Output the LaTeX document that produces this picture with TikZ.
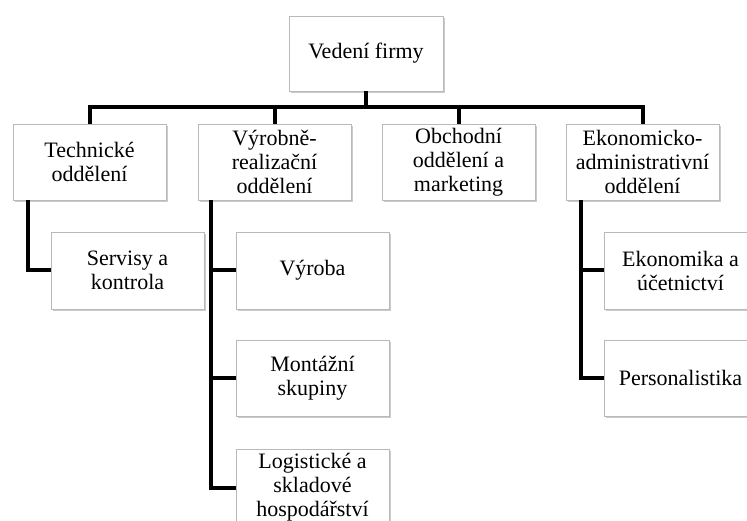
\documentclass[tikz,border=0pt]{standalone}
\usepackage{fontspec}
\setmainfont{Liberation Serif}
\usetikzlibrary{shadows}
\begin{document}
\begin{tikzpicture}[x=1pt,y=-1pt,
  box/.style={draw=gray!55, line width=0.8pt, fill=white, align=center, inner sep=0pt,
    minimum width=153pt, minimum height=76pt,
    font=\fontsize{22}{24}\selectfont,
    drop shadow={shadow xshift=2.2pt, shadow yshift=-2.2pt, fill=gray!50, opacity=0.8}},
  conn/.style={line width=4pt, black}]
\useasboundingbox (0,0) rectangle (747,521);
\clip (0,0) rectangle (747,521);
\fill[white] (0,0) rectangle (747,521);
% nodes
\node[box, minimum width=154pt, minimum height=75pt] (top) at (366,53.5) {Vedení firmy};
\node[box] (tech) at (89.5,162) {Technické\\oddělení};
\node[box] (vyr) at (274.5,162) {Výrobně-\\realizační\\oddělení};
\node[box] (obch) at (458.5,162) {Obchodní\\oddělení a\\marketing};
\node[box] (eko) at (642.5,162) {Ekonomicko-\\administrativní\\oddělení};
\node[box, minimum height=77pt] (serv) at (127.5,270.5) {Servisy a\\kontrola};
\node[box, minimum height=77pt] (vyroba) at (312.5,270.5) {Výroba};
\node[box] (mont) at (312.5,378) {Montážní\\skupiny};
\node[box, minimum height=77pt] (log) at (312.5,487.5) {Logistické a\\skladové\\hospodářství};
\node[box, minimum height=77pt] (ekon) at (680.5,270.5) {Ekonomika a\\účetnictví};
\node[box] (pers) at (680.5,378) {Personalistika};
% connectors
\coordinate (bar) at (366,107);
\draw[conn] (top.south) -- (bar);
\draw[conn] (bar) -| (tech.north);
\draw[conn] (bar) -| (vyr.north);
\draw[conn] (bar) -| (obch.north);
\draw[conn] (bar) -| (eko.north);
\draw[conn] ([xshift=15pt]tech.south west) |- (serv.west);
\draw[conn] ([xshift=13pt]vyr.south west) |- (vyroba.west);
\draw[conn] ([xshift=13pt]vyr.south west) |- (mont.west);
\draw[conn] ([xshift=13pt]vyr.south west) |- (log.west);
\draw[conn] ([xshift=15pt]eko.south west) |- (ekon.west);
\draw[conn] ([xshift=15pt]eko.south west) |- (pers.west);
\end{tikzpicture}
\end{document}
